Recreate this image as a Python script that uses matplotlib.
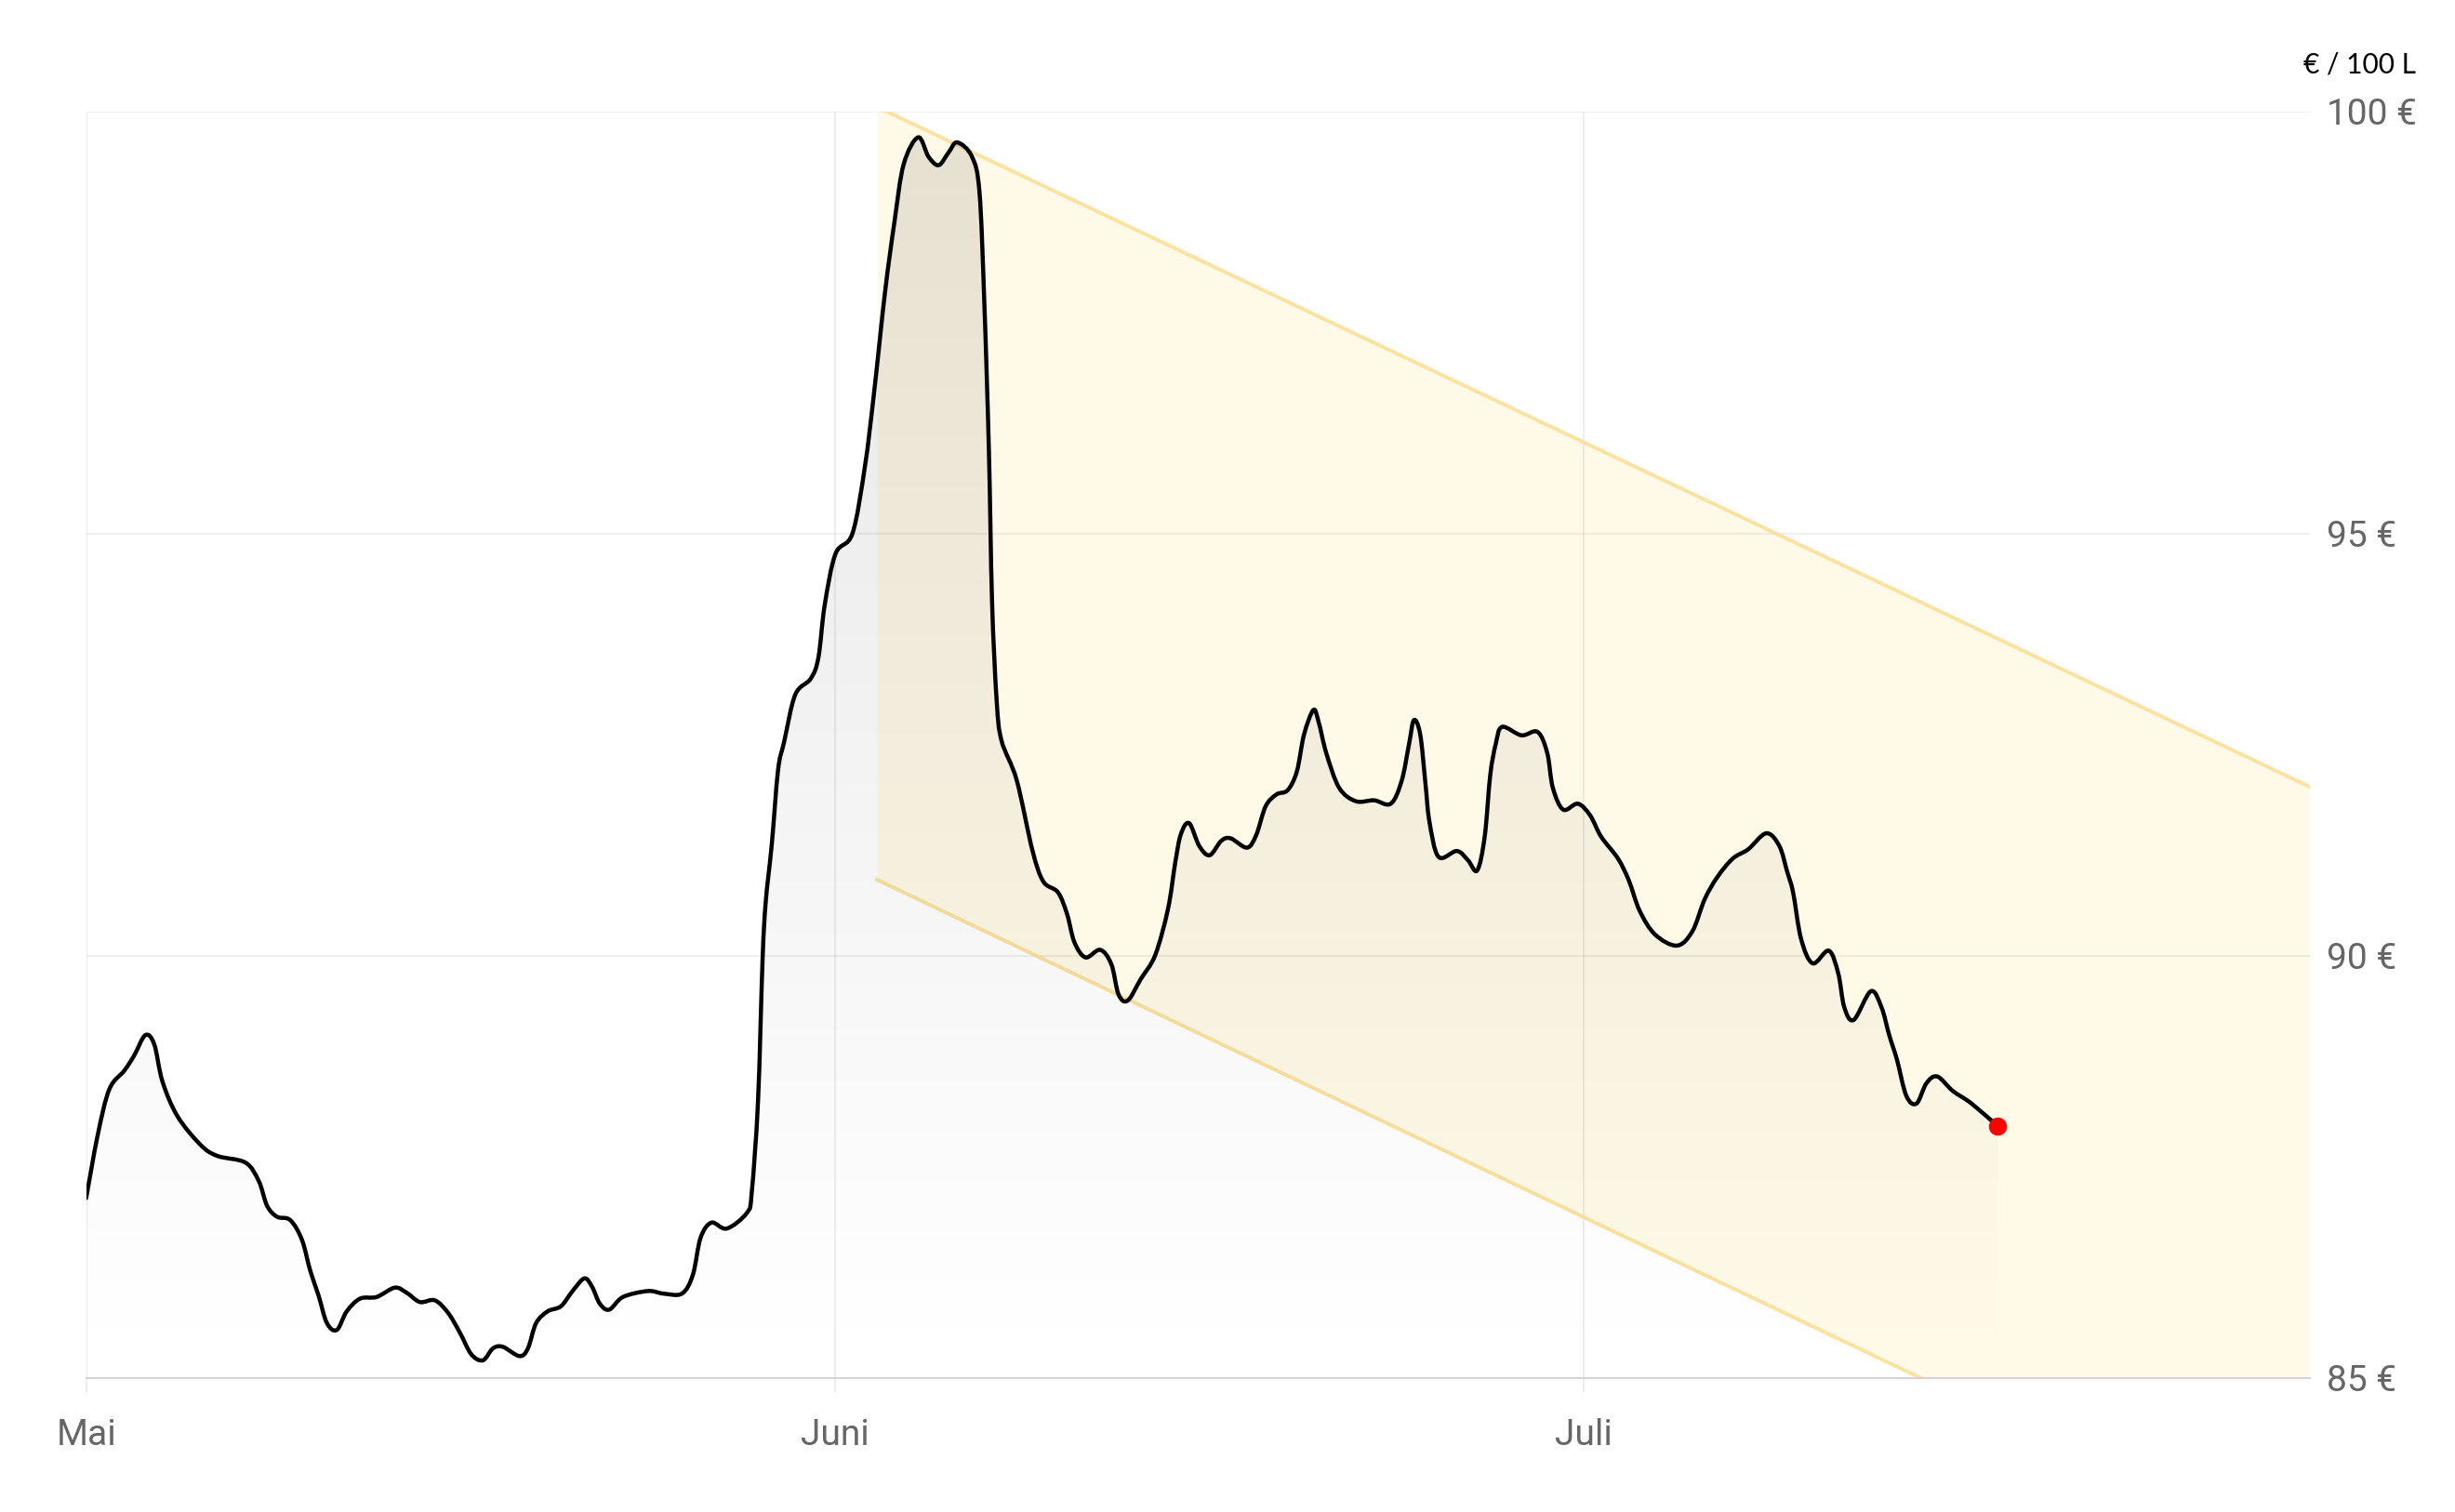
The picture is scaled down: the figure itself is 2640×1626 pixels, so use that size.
import numpy as np
import matplotlib
matplotlib.use("Agg")
import matplotlib.pyplot as plt
from matplotlib.colors import LinearSegmentedColormap
from matplotlib.path import Path
from matplotlib.patches import PathPatch

plt.rcParams['font.family'] = ['Roboto', 'DejaVu Sans']

# Heizölpreis, Tage seit 1. Mai
days = [0, 0.48, 0.96, 1.58, 1.99, 2.45, 2.82, 3.16, 3.78, 4.74,
        5.43, 6.6, 7.15, 7.49, 7.9, 8.45, 8.93, 9.28, 9.62, 9.97,
        10.38, 10.79, 11.34, 12.03, 12.78, 13.27, 13.82, 14.44, 14.99, 15.47,
        15.95, 16.43, 16.84, 17.25, 17.94, 18.29, 18.63, 19.11, 19.66, 20.14,
        20.63, 20.95, 21.27, 21.66, 22.23, 23.26, 23.9, 24.67, 25.12, 25.44,
        25.89, 26.53, 27.37, 27.56, 27.82, 28.01, 28.14, 28.39, 28.65, 28.9,
        29.36, 30.0, 30.32, 30.58, 31.03, 31.73, 32.25, 32.63, 33.08, 33.47,
        33.85, 34.45, 34.88, 35.3, 35.71, 36.07, 36.68, 36.99, 37.19, 37.38,
        37.51, 37.7, 37.9, 38.53, 39.18, 39.63, 40.24, 40.62, 40.92, 41.38,
        41.99, 42.45, 42.75, 43.13, 43.66, 44.27, 44.8, 45.1, 45.33, 45.67,
        46.09, 46.52, 47.0, 47.39, 48.07, 48.45, 48.84, 49.29, 49.75, 50.13,
        50.43, 50.82, 51.04, 51.35, 51.88, 52.57, 53.33, 54.02, 54.47, 54.78,
        54.98, 55.24, 55.46, 55.62, 56.0, 56.76, 57.22, 57.6, 57.91, 58.14,
        58.37, 58.63, 59.43, 60.1, 60.5, 60.73, 61.16, 61.77, 62.28, 62.73,
        63.43, 63.88, 64.33, 64.97, 65.87, 66.51, 67.02, 67.54, 68.18, 68.82,
        69.57, 70.11, 70.43, 70.68, 71.01, 71.49, 72.16, 72.55, 72.8, 73.19,
        73.9, 74.34, 74.66, 74.98, 75.37, 75.79, 76.2, 76.65, 77.29, 78.07,
        79.16]
preis = [87.13, 87.88, 88.42, 88.64, 88.82, 89.06, 88.95, 88.51, 88.10, 87.76,
         87.63, 87.55, 87.33, 87.04, 86.91, 86.87, 86.64, 86.27, 85.98, 85.65,
         85.57, 85.79, 85.94, 85.96, 86.07, 86.01, 85.90, 85.92, 85.77, 85.54,
         85.28, 85.21, 85.35, 85.37, 85.26, 85.35, 85.65, 85.79, 85.85, 86.03,
         86.18, 86.08, 85.88, 85.81, 85.96, 86.03, 86.0, 86.0, 86.22, 86.66,
         86.84, 86.77, 86.96, 87.2, 88.28, 89.97, 90.64, 91.32, 92.2, 92.53,
         93.09, 93.28, 93.53, 94.15, 94.76, 95.0, 95.80, 96.68, 97.86, 98.69,
         99.37, 99.69, 99.46, 99.36, 99.51, 99.63, 99.46, 99.04, 97.74, 95.98,
         94.2, 93.03, 92.55, 92.08, 91.25, 90.88, 90.75, 90.49, 90.16, 89.98,
         90.07, 89.90, 89.54, 89.47, 89.72, 90.01, 90.56, 91.11, 91.44, 91.57,
         91.30, 91.19, 91.36, 91.39, 91.28, 91.43, 91.77, 91.91, 91.96, 92.18,
         92.62, 92.91, 92.76, 92.40, 91.99, 91.83, 91.84, 91.80, 92.07, 92.51,
         92.79, 92.62, 92.03, 91.59, 91.17, 91.24, 91.13, 91.01, 91.41, 92.14,
         92.51, 92.71, 92.61, 92.65, 92.40, 91.99, 91.73, 91.80, 91.66, 91.41,
         91.15, 90.89, 90.53, 90.25, 90.12, 90.29, 90.67, 90.93, 91.15, 91.26,
         91.45, 91.30, 91.00, 90.75, 90.20, 89.91, 90.06, 89.79, 89.39, 89.24,
         89.58, 89.39, 89.06, 88.77, 88.34, 88.25, 88.49, 88.57, 88.40, 88.25,
         87.98]

# Trendkanal
kanal_x = [32.75, 92.08]
kanal_oben = [100.05, 92.0]
kanal_unten = [90.9, 82.8]

monate = ['Mai', 'Juni', 'Juli']
monat_pos = [0, 31, 62]
y_ticks = [85, 90, 95, 100]
y_labels = ['85 €', '90 €', '95 €', '100 €']


def glatter_pfad(x, y, t=0.5):
    # Bezier-Pfad durch alle Punkte (Catmull-Rom), nur fürs Zeichnen
    x = np.asarray(x, float)
    y = np.asarray(y, float)
    verts = [(x[0], y[0])]
    codes = [Path.MOVETO]
    n = len(x)
    for i in range(n - 1):
        i0 = max(i - 1, 0)
        i3 = min(i + 2, n - 1)
        c1 = (x[i] + (x[i + 1] - x[i0]) * t / 3, y[i] + (y[i + 1] - y[i0]) * t / 3)
        c2 = (x[i + 1] - (x[i3] - x[i]) * t / 3, y[i + 1] - (y[i3] - y[i]) * t / 3)
        verts += [c1, c2, (x[i + 1], y[i + 1])]
        codes += [Path.CURVE4] * 3
    return verts, codes


fig = plt.figure(figsize=(26.4, 16.26), dpi=100)
ax = fig.add_axes([0.0351, 0.0886, 0.9058, 0.8379])
ax.set_xlim(0, 92.08)
ax.set_ylim(85, 100)

# Kanal
ax.fill_between(kanal_x, kanal_unten, kanal_oben, color='#fff9e8', lw=0, zorder=1)
ax.plot(kanal_x, kanal_oben, color='#fbe29e', lw=2.8, zorder=2)
ax.plot(kanal_x, kanal_unten, color='#fbe29e', lw=2.8, zorder=2)

# Gitter
for y in y_ticks[1:]:
    ax.axhline(y, color='black', alpha=0.075, lw=1.1, zorder=1.5)
for x in monat_pos:
    ax.axvline(x, color='#1a1a40', alpha=0.09, lw=1.1, zorder=1.5)

verts, codes = glatter_pfad(days, preis)

# Fläche unter der Kurve mit Verlauf
flaeche = Path(verts + [(days[-1], 85), (days[0], 85), (days[0], preis[0])],
               codes + [Path.LINETO, Path.LINETO, Path.CLOSEPOLY])
cmap = LinearSegmentedColormap.from_list('grau', [(0, 0, 0, 0.0), (0, 0, 0, 0.1)])
grad = np.linspace(0, 1, 256).reshape(-1, 1)
img = ax.imshow(grad, cmap=cmap, aspect='auto', origin='lower',
                extent=[0, days[-1], 85, 100], zorder=2.5)
img.set_clip_path(flaeche, transform=ax.transData)

linie = PathPatch(Path(verts, codes), facecolor='none', edgecolor='black',
                  lw=3.2, joinstyle='round', capstyle='round', zorder=3)
ax.add_patch(linie)
ax.plot(days[-1], preis[-1], 'o', color='red', ms=13, zorder=4)

for s in ['top', 'left', 'right']:
    ax.spines[s].set_visible(False)
ax.spines['bottom'].set_color('#d4d4d8')
ax.spines['bottom'].set_linewidth(1.5)
ax.spines['bottom'].set_zorder(2)

ax.set_xticks(monat_pos)
ax.set_xticklabels(monate)
ax.tick_params(axis='x', length=11, width=1.1, color='#e6e6ee', pad=20,
               labelsize=28, labelcolor='#666666')
ax.yaxis.tick_right()
ax.set_yticks(y_ticks)
ax.set_yticklabels(y_labels)
ax.tick_params(axis='y', length=0, pad=13, labelsize=28, labelcolor='#666666')
for lab in ax.get_yticklabels():
    lab.set_horizontalalignment('left')

fig.text(0.9841, 0.957, '€ / 100 L', ha='right', va='center', fontsize=21.5,
         color='black', family=['Lato', 'DejaVu Sans'])

fig.savefig('out.png', dpi=100, facecolor='white')
